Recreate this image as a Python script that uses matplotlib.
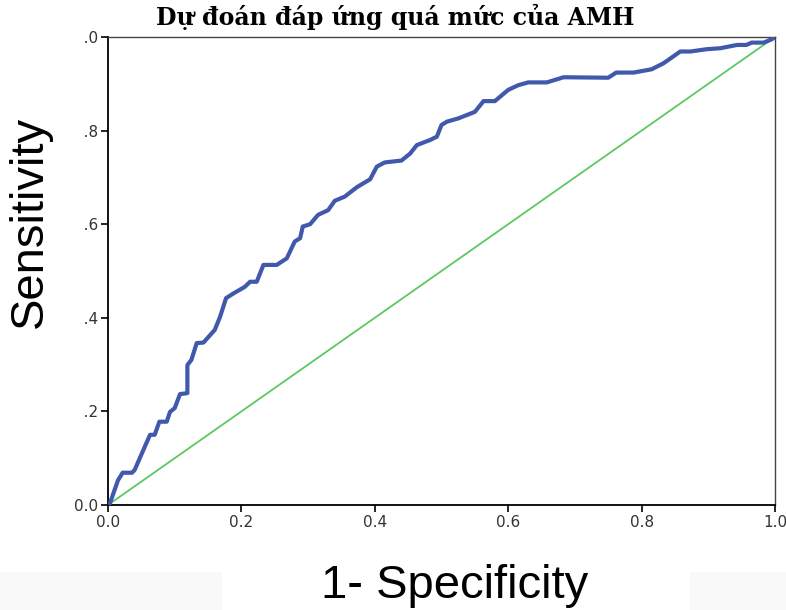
import matplotlib.pyplot as plt
from matplotlib.patches import Rectangle

# ROC curve points (1 - specificity, sensitivity)
fpr = [0.0, 0.003, 0.015, 0.022, 0.036, 0.040, 0.051, 0.063, 0.070, 0.077,
       0.088, 0.093, 0.100, 0.108, 0.119, 0.119, 0.125, 0.133, 0.143, 0.160,
       0.168, 0.177, 0.188, 0.205, 0.213, 0.223, 0.233, 0.253, 0.268, 0.280,
       0.288, 0.292, 0.303, 0.315, 0.330, 0.340, 0.355, 0.373, 0.393, 0.403,
       0.415, 0.440, 0.453, 0.463, 0.483, 0.493, 0.500, 0.508, 0.525, 0.550,
       0.563, 0.580, 0.600, 0.615, 0.630, 0.658, 0.683, 0.750, 0.762, 0.788,
       0.815, 0.833, 0.858, 0.873, 0.898, 0.918, 0.943, 0.957, 0.965, 0.983,
       0.995, 1.0]
tpr = [0.0, 0.004, 0.053, 0.069, 0.069, 0.075, 0.111, 0.150, 0.150, 0.178,
       0.178, 0.199, 0.207, 0.237, 0.239, 0.299, 0.310, 0.346, 0.347, 0.374,
       0.402, 0.442, 0.452, 0.466, 0.477, 0.477, 0.513, 0.513, 0.527, 0.563,
       0.570, 0.595, 0.600, 0.620, 0.630, 0.650, 0.659, 0.679, 0.696, 0.723,
       0.732, 0.736, 0.751, 0.769, 0.780, 0.787, 0.812, 0.819, 0.826, 0.840,
       0.863, 0.863, 0.887, 0.897, 0.903, 0.903, 0.914, 0.913, 0.924, 0.924,
       0.931, 0.944, 0.969, 0.969, 0.974, 0.976, 0.983, 0.983, 0.988, 0.988,
       0.995, 1.0]
ref_line = [0.0, 1.0]
ticks = [0.0, 0.2, 0.4, 0.6, 0.8, 1.0]
tick_labels = ['0.0', '0.2', '0.4', '0.6', '0.8', '1.0']

fig = plt.figure(figsize=(7.86, 6.10), dpi=100)
ax = fig.add_axes([108 / 786, 1 - 505 / 610, 667 / 786, 468 / 610])

ax.plot(ref_line, ref_line, color='#5cc862', lw=1.3, zorder=2)
ax.plot(fpr, tpr, color='#4059ad', lw=3.0, zorder=3, solid_joinstyle='round')

ax.set_xlim(0, 1)
ax.set_ylim(0, 1)
ax.set_xticks(ticks)
ax.set_xticklabels(tick_labels)
ax.set_yticks(ticks)
ax.set_yticklabels(tick_labels)
ax.tick_params(direction='out', length=5, width=1.2, pad=2,
               labelsize=11, labelcolor='#333333')
for lab in ax.get_xticklabels() + ax.get_yticklabels():
    lab.set_family('DejaVu Sans')
for side in ['left', 'bottom']:
    ax.spines[side].set_linewidth(1.3)
for side in ['top', 'right']:
    ax.spines[side].set_linewidth(1.0)
    ax.spines[side].set_color('#444444')

fig.text(395 / 786, 1 - 17 / 610, 'Dự đoán đáp ứng quá mức của AMH',
         ha='center', va='center', fontsize=17, fontweight='bold',
         family='DejaVu Serif')

# axis captions placed over the figure margins
cover = Rectangle((0, 1 - 425 / 610), 84 / 786, 425 / 610,
                  transform=fig.transFigure, facecolor='white',
                  edgecolor='none')
cover.set_zorder(5)
fig.add_artist(cover)
fig.text(30 / 786, 1 - 222 / 610, 'Sensitivity', rotation=90,
         ha='center', va='center', fontsize=34, family='Liberation Sans',
         zorder=6)
fig.text(455 / 786, 1 - 586 / 610, '1- Specificity',
         ha='center', va='center', fontsize=34, family='Liberation Sans')

for x0, w in [(0, 222), (690, 96)]:
    fig.patches.append(Rectangle((x0 / 786, 0), w / 786, 38 / 610,
                                 transform=fig.transFigure,
                                 facecolor='#f9f9f9', edgecolor='none'))

fig.savefig('out.png', dpi=100)
